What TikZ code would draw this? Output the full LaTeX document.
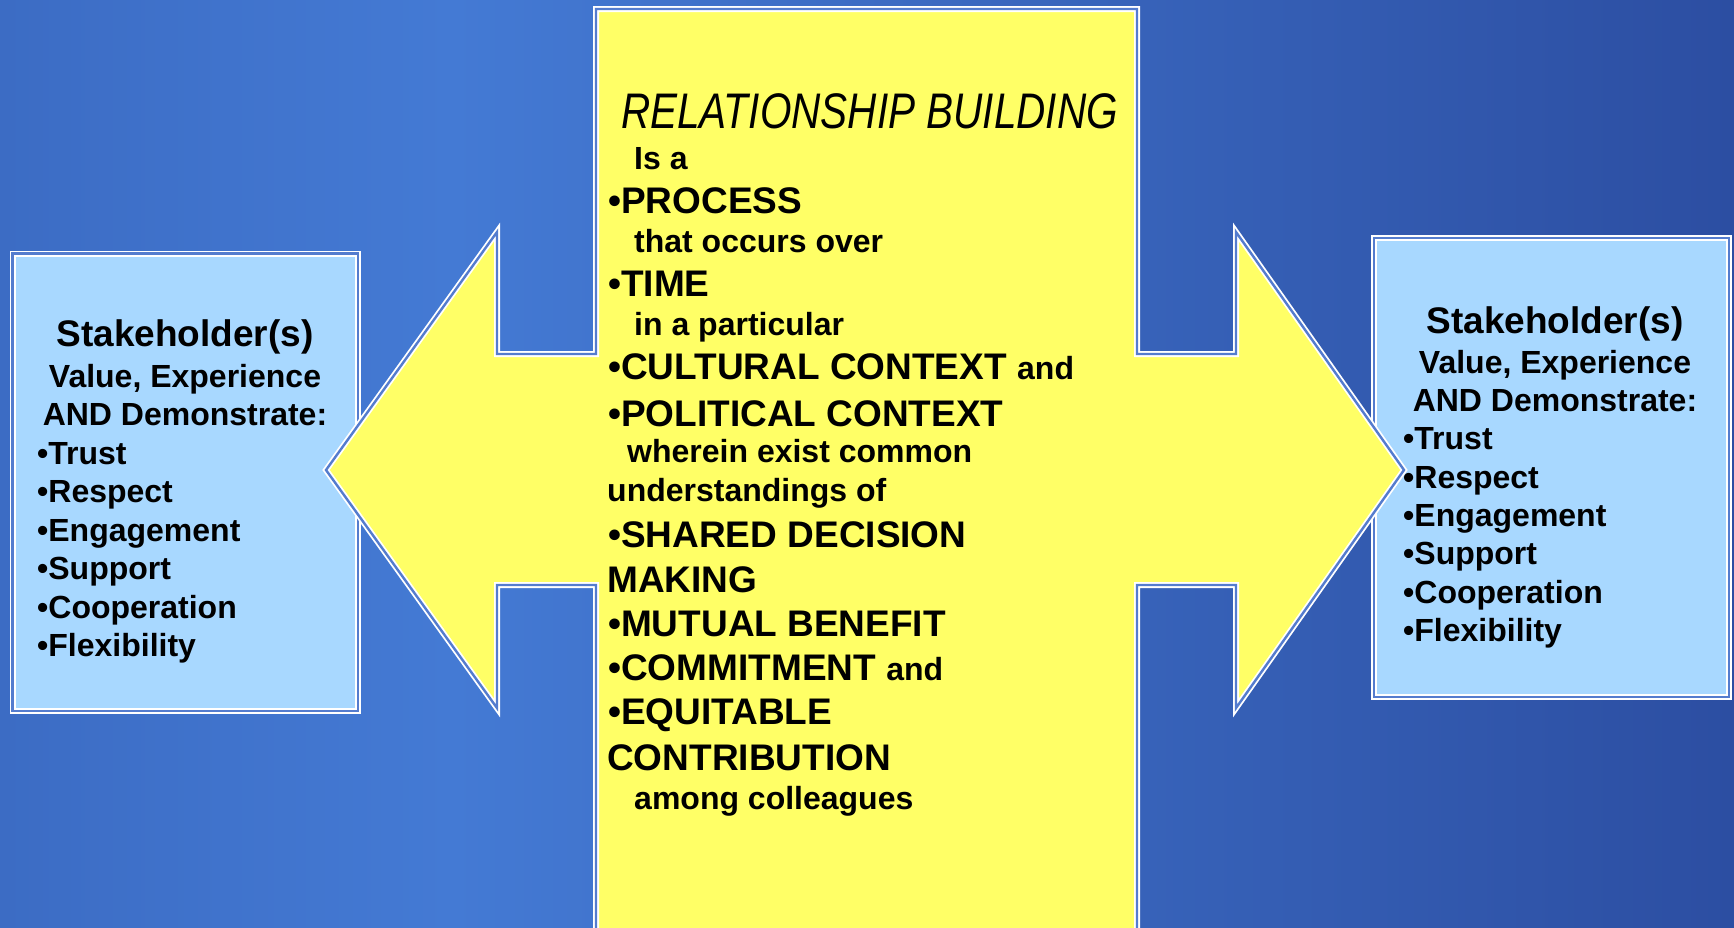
\documentclass[tikz,border=0pt]{standalone}
\usepackage{fontspec}
\setmainfont{Liberation Sans}
\usepackage{graphicx}
\definecolor{bgA}{RGB}{60,108,196}
\definecolor{bgB}{RGB}{68,122,212}
\definecolor{bgC}{RGB}{44,78,162}
\definecolor{ylw}{RGB}{255,255,102}
\definecolor{lblue}{RGB}{168,216,255}
\definecolor{gapblue}{RGB}{84,124,206}
\pgfdeclarehorizontalshading{bgshade}{100bp}{color(0bp)=(bgA); color(25bp)=(bgA); color(38bp)=(bgB); color(75bp)=(bgC); color(100bp)=(bgC)}
\begin{document}
\begin{tikzpicture}[x=1pt,y=-1pt,
  dline/.style={draw=white, line width=1.8pt, double=gapblue, double distance=2.4pt},
  txt/.style={inner sep=0pt, anchor=base west, text=black},
  ctxt/.style={inner sep=0pt, anchor=base, text=black},
  capsz/.style={font=\fontsize{37}{44}\selectfont\bfseries},
  lowsz/.style={font=\fontsize{32}{38}\selectfont\bfseries},
  itmsz/.style={font=\fontsize{32}{38}\selectfont\bfseries}]
\useasboundingbox (0,0) rectangle (1734,927);
\shade[shading=bgshade] (0,0) rectangle (1734,927);
\begin{scope}
\clip (0,0) rectangle (1734,927);
% stakeholder boxes
\path[fill=lblue, dline] (12.5,253.5) rectangle (358,711);
\path[fill=lblue, dline] (1374,238) rectangle (1729,697);
% central cross / double arrow
\path[fill=ylw, dline] (596,960) -- (596,585) -- (497,585) -- (497,708) -- (326,470) -- (497,232) -- (497,354) -- (596,354) -- (596,9) -- (1137,9) -- (1137,354) -- (1236,354) -- (1236,232) -- (1404,470) -- (1236,708) -- (1236,585) -- (1137,585) -- (1137,960) -- cycle;
\end{scope}
% left box text
\node[ctxt, capsz] (lhead) at (185,346) {Stakeholder(s)};
\node[ctxt, itmsz] (lval) at (185,387) {Value, Experience};
\node[ctxt, itmsz] (ldem) at (185,425) {AND Demonstrate:};
\node[txt, itmsz] (l1) at (37,464) {•Trust};
\node[txt, itmsz] (l2) at (37,502) {•Respect};
\node[txt, itmsz] (l3) at (37,541) {•Engagement};
\node[txt, itmsz] (l4) at (37,579) {•Support};
\node[txt, itmsz] (l5) at (37,618) {•Cooperation};
\node[txt, itmsz] (l6) at (37,656) {•Flexibility};
% right box text
\node[ctxt, capsz] (rhead) at (1555,333) {Stakeholder(s)};
\node[ctxt, itmsz] (rval) at (1555,373) {Value, Experience};
\node[ctxt, itmsz] (rdem) at (1555,411) {AND Demonstrate:};
\node[txt, itmsz] (r1) at (1403,449) {•Trust};
\node[txt, itmsz] (r2) at (1403,488) {•Respect};
\node[txt, itmsz] (r3) at (1403,526) {•Engagement};
\node[txt, itmsz] (r4) at (1403,564) {•Support};
\node[txt, itmsz] (r5) at (1403,603) {•Cooperation};
\node[txt, itmsz] (r6) at (1403,641) {•Flexibility};
% centre text
\node[txt, font=\fontsize{50}{60}\selectfont\itshape] (title) at (621,128) {\scalebox{0.81}[1]{RELATIONSHIP BUILDING}};
\node[txt, lowsz] (c1) at (634,169) {Is a};
\node[txt, capsz] (c2) at (608,213) {•PROCESS};
\node[txt, lowsz] (c3) at (634,252) {that occurs over};
\node[txt, capsz] (c4) at (608,296) {•TIME};
\node[txt, lowsz] (c5) at (634,335) {in a particular};
\node[txt, capsz] (c6) at (608,379) {•CULTURAL CONTEXT {\fontsize{32}{38}\selectfont and}};
\node[txt, capsz] (c7) at (608,426) {•POLITICAL CONTEXT};
\node[txt, lowsz] (c8) at (627,462) {wherein exist common};
\node[txt, lowsz] (c9) at (607,501) {understandings of};
\node[txt, capsz] (c10) at (608,547) {•SHARED DECISION};
\node[txt, capsz] (c11) at (607,592) {MAKING};
\node[txt, capsz] (c12) at (608,636) {•MUTUAL BENEFIT};
\node[txt, capsz] (c13) at (608,680) {•COMMITMENT {\fontsize{32}{38}\selectfont and}};
\node[txt, capsz] (c14) at (608,724) {•EQUITABLE};
\node[txt, capsz] (c15) at (607,770) {CONTRIBUTION};
\node[txt, lowsz] (c16) at (634,809) {among colleagues};
\end{tikzpicture}
\end{document}
